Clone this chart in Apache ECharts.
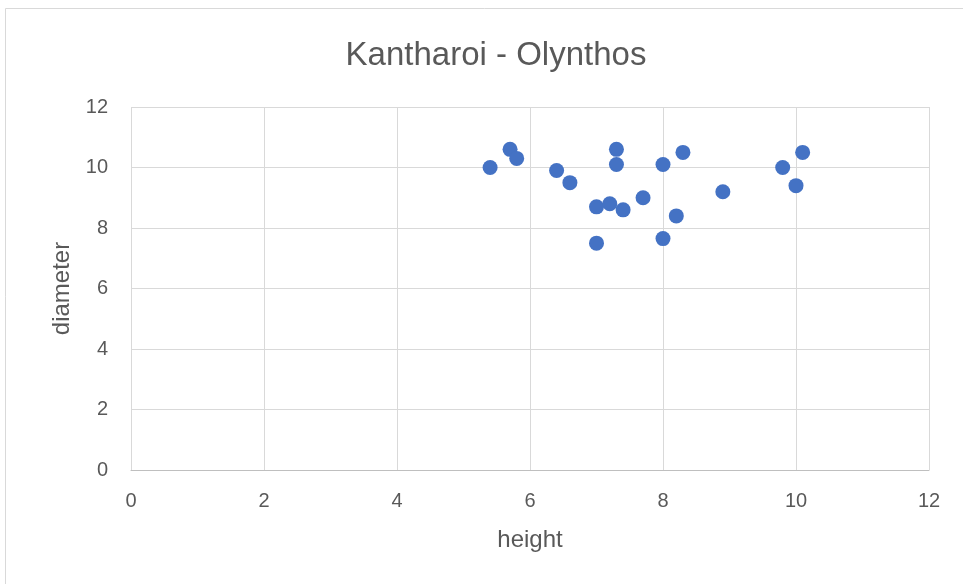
<!DOCTYPE html>
<html>
<head>
<meta charset="utf-8">
<script src="https://cdn.jsdelivr.net/npm/echarts@6/dist/echarts.min.js"></script>
<style>
  html, body { margin: 0; padding: 0; background: #fff; }
  #chart { width: 963px; height: 584px; }
</style>
</head>
<body>
<div id="chart"></div>
<script>
// height / diameter pairs
const heights = [5.4, 5.7, 5.8, 6.4, 6.6, 7.0, 7.2, 7.4, 7.0, 7.3, 7.3, 7.7, 8.0, 8.3, 8.2, 8.0, 8.9, 9.8, 10.1, 10.0];
const diameters = [10.0, 10.6, 10.3, 9.9, 9.5, 8.7, 8.8, 8.6, 7.5, 10.6, 10.1, 9.0, 10.1, 10.5, 8.4, 7.65, 9.2, 10.0, 10.5, 9.4];
const xTicks = [0, 2, 4, 6, 8, 10, 12];
const yTicks = [0, 2, 4, 6, 8, 10, 12];

const font = "'Liberation Sans', 'DejaVu Sans', sans-serif";
const textGray = "#595959";

const myChart = echarts.init(document.getElementById("chart"));
myChart.setOption({
  animation: false,
  textStyle: { fontFamily: font },
  title: {
    text: "Kantharoi - Olynthos",
    left: 491,
    textAlign: "center",
    top: 34,
    textStyle: { fontSize: 33, fontWeight: "normal", color: textGray, fontFamily: font },
  },
  graphic: [
    {
      type: "rect",
      shape: { x: 5.5, y: 8.5, width: 980, height: 600 },
      style: { fill: "none", stroke: "#d9d9d9", lineWidth: 1 },
      silent: true,
    },
  ],
  grid: { left: 131, right: 34, top: 107, bottom: 114 },
  xAxis: {
    type: "value",
    min: xTicks[0],
    max: xTicks[xTicks.length - 1],
    interval: 2,
    name: "height",
    nameLocation: "middle",
    nameGap: 58,
    nameTextStyle: { fontSize: 24, color: textGray },
    axisLine: { show: true, onZero: false, lineStyle: { color: "#bfbfbf" } },
    axisTick: { show: false },
    axisLabel: { fontSize: 20, color: textGray, margin: 21 },
    splitLine: { show: true, lineStyle: { color: "#d9d9d9", width: 1 } },
  },
  yAxis: {
    type: "value",
    min: yTicks[0],
    max: yTicks[yTicks.length - 1],
    interval: 2,
    name: "diameter",
    nameLocation: "middle",
    nameGap: 57,
    nameTextStyle: { fontSize: 24, color: textGray },
    axisLine: { show: false },
    axisTick: { show: false },
    axisLabel: { fontSize: 20, color: textGray, margin: 23 },
    splitLine: { show: true, lineStyle: { color: "#d9d9d9", width: 1 } },
  },
  series: [
    {
      type: "scatter",
      name: "diameter",
      symbol: "circle",
      symbolSize: 15,
      data: heights.map((h, i) => [h, diameters[i]]),
      itemStyle: { color: "#4472C4", opacity: 1 },
    },
  ],
});
</script>
</body>
</html>
